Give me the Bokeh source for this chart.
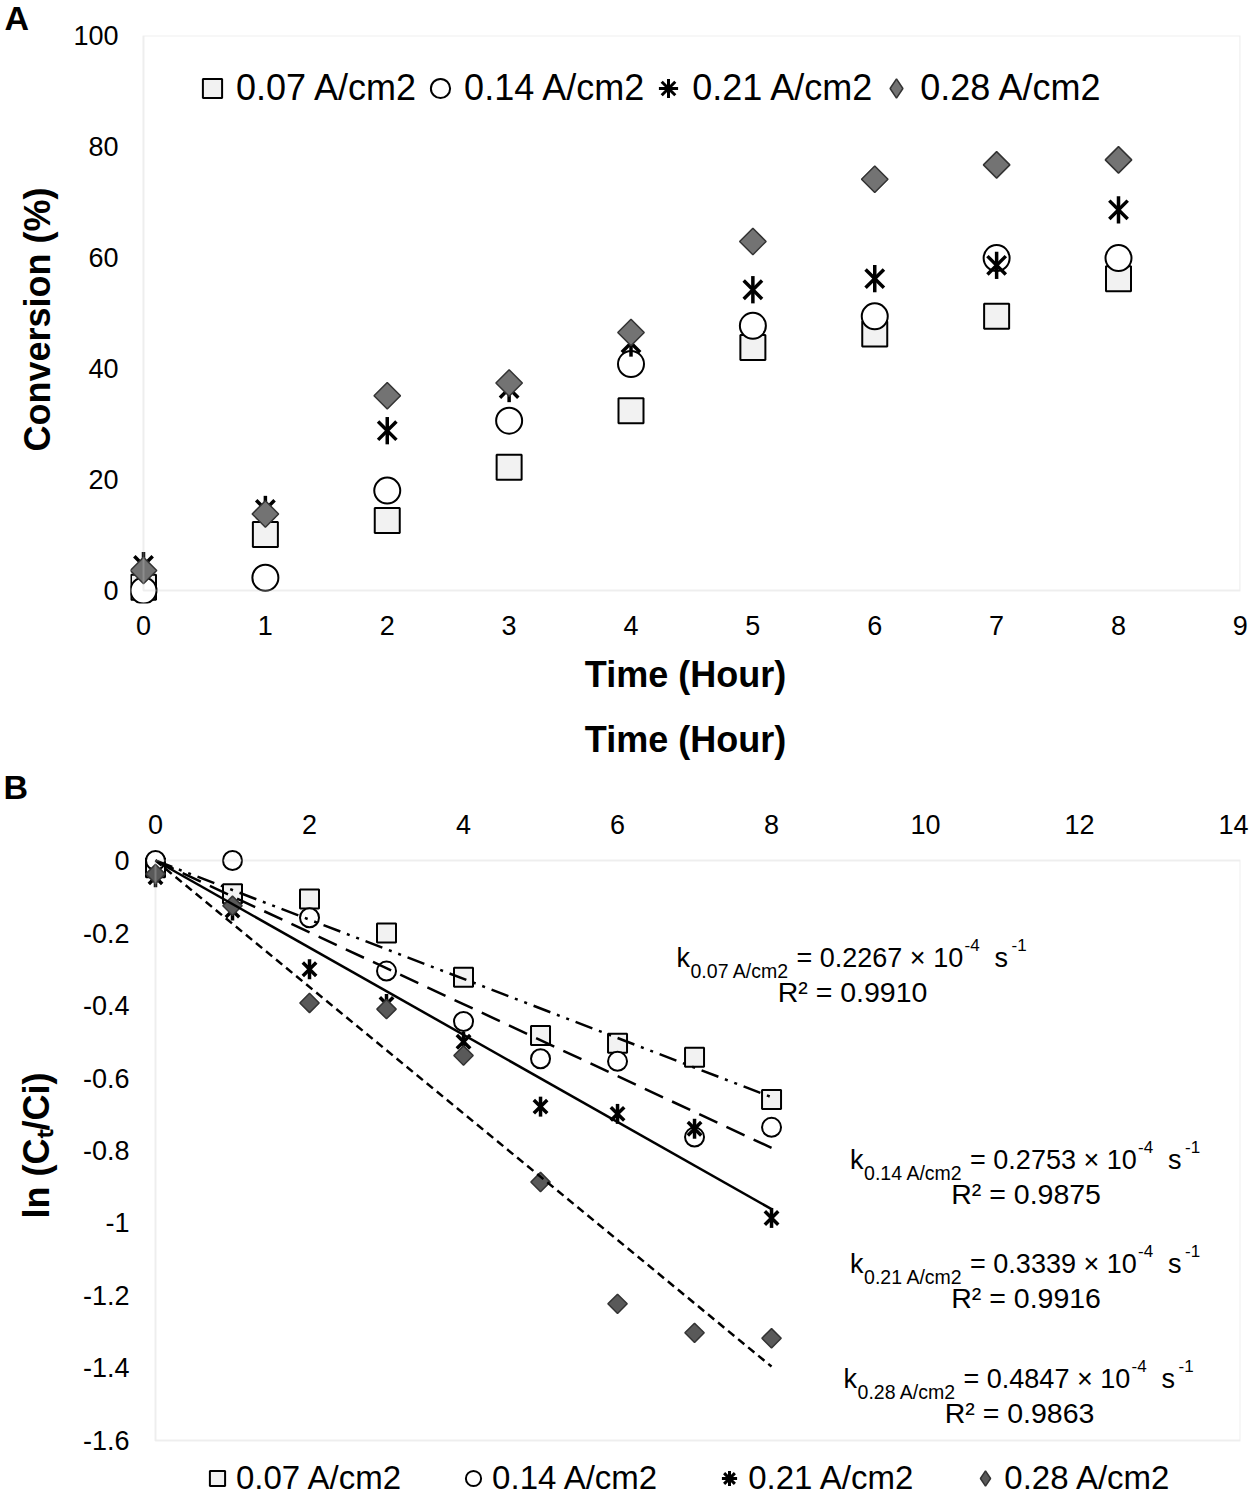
import numpy as np
from bokeh.plotting import figure
from bokeh.layouts import column
from bokeh.models import Range1d, FixedTicker, Legend, LegendItem, BoxAnnotation, Title
from bokeh.core.properties import value
from bokeh.embed import file_html
from bokeh.resources import INLINE

FONT = "Liberation Sans"

# ---- data ----
hours = [0, 1, 2, 3, 4, 5, 6, 7, 8]
densities = [0.07, 0.14, 0.21, 0.28]   # A/cm2

# panel A: conversion (%)
conv_007 = [0.6, 10.1, 12.6, 22.2, 32.4, 43.8, 46.2, 49.4, 56.2]
conv_014 = [0.0, 2.3, 18.0, 30.6, 40.8, 47.7, 49.4, 59.9, 59.9]
conv_021 = [4.5, 14.6, 28.8, 36.4, 44.6, 54.2, 56.2, 58.6, 68.6]
conv_028 = [3.6, 13.8, 35.1, 37.4, 46.5, 62.9, 74.1, 76.7, 77.6]

# panel B: ln(Ct/Ci)
ln_007 = [-0.020, -0.092, -0.106, -0.200, -0.322, -0.483, -0.504, -0.543, -0.659]
ln_014 = [0.000, 0.000, -0.158, -0.305, -0.444, -0.547, -0.554, -0.763, -0.736]
ln_021 = [-0.046, -0.138, -0.300, -0.396, -0.500, -0.679, -0.699, -0.740, -0.986]
ln_028 = [-0.037, -0.125, -0.393, -0.410, -0.538, -0.887, -1.223, -1.303, -1.318]

# rate constants (x 10^-4 s^-1) and fit quality
k_values = [0.2267, 0.2753, 0.3339, 0.4847]
r2_values = ["0.9910", "0.9875", "0.9916", "0.9863"]

conv_ticks = [0, 20, 40, 60, 80, 100]
time_ticks_a = [0, 1, 2, 3, 4, 5, 6, 7, 8, 9]
time_ticks_b = [0, 2, 4, 6, 8, 10, 12, 14]
ln_ticks = [0, -0.2, -0.4, -0.6, -0.8, -1.0, -1.2, -1.4, -1.6]
ln_tick_labels = ["0", "-0.2", "-0.4", "-0.6", "-0.8", "-1", "-1.2", "-1.4", "-1.6"]

series_a = [conv_007, conv_014, conv_021, conv_028]
series_b = [ln_007, ln_014, ln_021, ln_028]
kinds = ["square", "circle", "star", "diamond"]
fit_dash = ["18 7 3 7 3 7", "20 10", "solid", "8 5"]
labels = ["%.2f A/cm2" % d for d in densities]

LEFT, RIGHT = 130, 10          # common frame borders of the stacked panels
XB_END = 14.09                 # panel B x-axis runs a little past 14


def draw_series(p, y, kind, size, dark):
    if kind == "square":
        return [p.scatter(hours, y, marker="square", size=size, fill_color="#f2f2f2",
                          line_color="black", line_width=2)]
    if kind == "circle":
        return [p.scatter(hours, y, marker="circle", size=size, fill_color="white",
                          line_color="black", line_width=2)]
    if kind == "star":
        r1 = p.scatter(hours, y, marker="x", size=size, line_color="black", line_width=3.5)
        r2 = p.scatter(hours, y, marker="dash", angle=np.pi / 2, size=size * 1.05,
                       line_color="black", line_width=3.5)
        return [r1, r2]
    return [p.scatter(hours, y, marker="square", angle=np.pi / 4, size=size * 0.72,
                      fill_color=dark, line_color="#333333", line_width=1.5)]


def legend_proxy(p, y, kind, dark):
    # zero-size copies: only the legend box gives them a size
    if kind == "square":
        return p.scatter(hours, y, marker="square", size=0, fill_color="#f2f2f2",
                         line_color="black", line_width=2)
    if kind == "circle":
        return p.scatter(hours, y, marker="circle", size=0, fill_color="white",
                         line_color="black", line_width=2)
    if kind == "star":
        return p.scatter(hours, y, marker="asterisk", size=0, line_color="black", line_width=3)
    return p.scatter(hours, y, marker="diamond", size=0, fill_color=dark,
                     line_color="#333333", line_width=1.5)


def style_axes(p):
    p.xgrid.visible = False
    p.ygrid.visible = False
    p.outline_line_color = None
    for ax in [p.xaxis[0], p.yaxis[0]]:
        ax.axis_line_color = None
        ax.major_tick_line_color = None
        ax.minor_tick_line_color = None
        ax.major_tick_out = 0
        ax.major_tick_in = 0
        ax.major_label_text_font = FONT
        ax.major_label_text_font_size = "27px"
        ax.major_label_text_color = "black"
        ax.axis_label_text_font = FONT
        ax.axis_label_text_font_size = "36px"
        ax.axis_label_text_font_style = "bold"
        ax.axis_label_text_color = "black"


def panel_title(text, **kw):
    return Title(text=text, text_font=FONT, text_font_style="bold", text_color="black", **kw)


# ---------------- panel A ----------------
pa = figure(width=1250, height=700, x_range=Range1d(-0.1067, 9.001), y_range=Range1d(-2.34, 100.01),
            output_backend="svg", toolbar_location=None,
            min_border_left=LEFT, min_border_right=RIGHT, min_border_top=35, min_border_bottom=97)
style_axes(pa)
pa.add_layout(BoxAnnotation(left=0, right=9, bottom=0, top=100, fill_color=None,
                            line_color="#c8c8c8", line_width=2))
pa.xaxis.ticker = FixedTicker(ticks=time_ticks_a)
pa.yaxis.ticker = FixedTicker(ticks=conv_ticks)
pa.xaxis.major_label_standoff = 12
pa.yaxis.major_label_standoff = 12
pa.xaxis.axis_label = "Time (Hour)"
pa.yaxis.axis_label = "Conversion (%)"
pa.xaxis.axis_label_standoff = 16
pa.yaxis.axis_label_standoff = 12

sizes_a = [25, 26, 26, 26]
items_a = []
for y, kind, size, lab in zip(series_a, kinds, sizes_a, labels):
    rs = draw_series(pa, y, kind, size, "#737373")
    if kind in ("star", "diamond"):
        rs = [legend_proxy(pa, y, kind, "#737373")]
    items_a.append(LegendItem(label=lab, renderers=rs))

leg_a = Legend(items=items_a, orientation="horizontal", location=(58, 491),
               glyph_width=48, glyph_height=48, label_standoff=0, spacing=0,
               padding=0, margin=0, border_line_color=None, background_fill_alpha=0,
               label_text_font=FONT, label_text_font_size="36px", label_text_color="black")
pa.add_layout(leg_a)
pa.add_layout(panel_title("A", align="left", offset=-126, standoff=-6, vertical_align="top",
                          text_font_size="34px"), "above")

# ---------------- panel B ----------------
pb = figure(width=1250, height=756, x_range=Range1d(-0.3247, XB_END), y_range=Range1d(-1.6083, 0.0359),
            x_axis_location="above", output_backend="svg", toolbar_location=None,
            min_border_left=LEFT, min_border_right=RIGHT, min_border_top=147, min_border_bottom=13)
style_axes(pb)
pb.add_layout(BoxAnnotation(left=0, right=XB_END, bottom=-1.6, top=0, fill_color=None,
                            line_color="#c8c8c8", line_width=2))
pb.xaxis.ticker = FixedTicker(ticks=time_ticks_b)
pb.yaxis.ticker = FixedTicker(ticks=ln_ticks)
pb.yaxis.major_label_overrides = dict(zip(ln_ticks, ln_tick_labels))
pb.xaxis.major_label_standoff = 14
pb.yaxis.major_label_standoff = 1
pb.yaxis.axis_label = "ln (C\u209c/Ci)"
pb.yaxis.axis_label_standoff = 23
pb.add_layout(panel_title("B", align="left", offset=-127, standoff=12, vertical_align="bottom",
                          text_font_size="34px"), "above")
pb.add_layout(panel_title("Time (Hour)", align="center", offset=11, standoff=0,
                          vertical_align="bottom", text_font_size="36px"), "above")

sizes_b = [19, 19, 19, 19]
for y, kind, size in zip(series_b, kinds, sizes_b):
    draw_series(pb, y, kind, size, "#595959")

# first-order fits through the origin, slope = k * 3600 per hour
for k, dash in zip(k_values, fit_dash):
    slope = -k * 1e-4 * 3600
    pb.line([hours[0], hours[-1]], [slope * hours[0], slope * hours[-1]],
            line_color="black", line_width=2.5, line_dash=dash)

# rate constant annotations (anchor = left end of "k" on its baseline)
ann_x = [6.766, 9.02, 9.02, 8.935]
ann_y = [-0.2695, -0.8257, -1.1126, -1.4298]
txt = dict(text_font=value(FONT), text_color="black", text_baseline="alphabetic")
pb.text(ann_x, ann_y, text=["k"] * 4, text_font_size="27px", **txt)
pb.text(ann_x, ann_y, text=["%.2f A/cm2" % d for d in densities], x_offset=14, y_offset=13,
        text_font_size="19.5px", **txt)
pb.text(ann_x, ann_y, text=["= %.4f \u00d7 10" % k for k in k_values], x_offset=120,
        text_font_size="27px", **txt)
pb.text(ann_x, ann_y, text=["-4"] * 4, x_offset=288, y_offset=-13, text_font_size="17px", **txt)
pb.text(ann_x, ann_y, text=["s"] * 4, x_offset=318, text_font_size="27px", **txt)
pb.text(ann_x, ann_y, text=["-1"] * 4, x_offset=335, y_offset=-13, text_font_size="17px", **txt)
pb.text(ann_x, ann_y, text=["R\u00b2 = " + r for r in r2_values], x_offset=176, y_offset=34,
        text_align="center", text_font_size="28.5px", **txt)

# ---------------- legend strip under panel B ----------------
pc = figure(width=1250, height=41, x_range=Range1d(0, 1), y_range=Range1d(0, 1),
            x_axis_location=None, y_axis_location=None, output_backend="svg", toolbar_location=None,
            min_border_left=LEFT, min_border_right=RIGHT, min_border_top=0, min_border_bottom=0)
pc.xgrid.visible = False
pc.ygrid.visible = False
pc.outline_line_color = None
items_c = []
for y, kind, lab in zip(series_b, kinds, labels):
    items_c.append(LegendItem(label=lab, renderers=[legend_proxy(pc, y, kind, "#595959")]))
leg_c = Legend(items=items_c, orientation="horizontal", location=(68, 0),
               glyph_width=38, glyph_height=38, label_standoff=0, spacing=53,
               padding=0, margin=0, border_line_color=None, background_fill_alpha=0,
               label_text_font=FONT, label_text_font_size="33px", label_text_color="black")
pc.add_layout(leg_c)

layout = column(pa, pb, pc, spacing=0)
open("out.html", "w").write(file_html(layout, INLINE))
